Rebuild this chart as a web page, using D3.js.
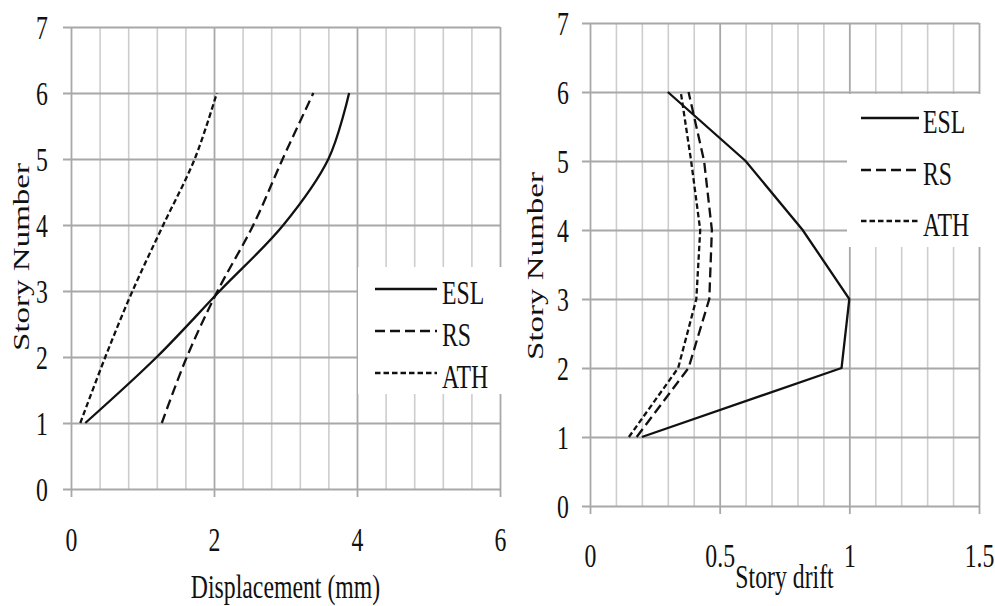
<!DOCTYPE html>
<html>
<head>
<meta charset="utf-8">
<script src="https://cdn.jsdelivr.net/npm/d3@7"></script>
<style>
  html, body { margin: 0; padding: 0; background: #fff; }
  svg { display: block; }
  text { font-family: "Liberation Serif", "Times New Roman", serif; fill: #111; }
</style>
</head>
<body>
<div id="chart"></div>
<script>
// story levels
const storyTicks = [0, 1, 2, 3, 4, 5, 6, 7];
const floors = [1, 2, 3, 4, 5, 6];
const seriesNames = ["ESL", "RS", "ATH"];

// displacement (mm) per floor
const dispESL = [0.2, 1.2, 2.08, 2.97, 3.6, 3.89];
const dispRS = [1.27, 1.62, 2.05, 2.55, 2.96, 3.39];
const dispATH = [0.13, 0.48, 0.86, 1.29, 1.73, 2.04];
const dispMajor = [0, 2, 4, 6];
const dispMinor = [0.4, 0.8, 1.2, 1.6, 2.4, 2.8, 3.2, 3.6, 4.4, 4.8, 5.2, 5.6];

// story drift per floor
const driftESL = [0.2, 0.97, 1.0, 0.82, 0.6, 0.3];
const driftRS = [0.18, 0.38, 0.46, 0.47, 0.44, 0.38];
const driftATH = [0.15, 0.34, 0.41, 0.425, 0.39, 0.35];
const driftMajor = [0, 0.5, 1, 1.5];
const driftMinor = [0.1, 0.2, 0.3, 0.4, 0.6, 0.7, 0.8, 0.9, 1.1, 1.2, 1.3, 1.4];

const FS = 33;      // font size
const SX = 0.72;    // horizontal squeeze of the picture's text

const svg = d3.select("#chart").append("svg")
    .attr("width", 995)
    .attr("height", 606);

const dashes = { ESL: null, RS: "10,5", ATH: "5.5,3" };

function drawPanel(opt) {
    const x = d3.scaleLinear().domain(opt.xDomain).range([opt.left, opt.right]);
    const y = d3.scaleLinear().domain([0, 7]).range([opt.bottom, opt.top]);
    const g = svg.append("g");

    // minor vertical grid
    g.append("g")
        .attr("transform", `translate(0,${opt.top})`)
        .call(d3.axisBottom(x).tickValues(opt.minor).tickSize(opt.bottom - opt.top).tickFormat(""))
        .call(a => a.select(".domain").remove())
        .call(a => a.selectAll(".tick line").attr("stroke", "#cdcdcd").attr("stroke-width", 1.6));

    // major vertical grid + x labels
    g.append("g")
        .attr("transform", `translate(0,${opt.top})`)
        .call(d3.axisBottom(x).tickValues(opt.major).tickSize(opt.bottom - opt.top + 8).tickFormat(d3.format("")))
        .call(a => a.select(".domain").remove())
        .call(a => a.selectAll(".tick line").attr("stroke", "#a8a8a8").attr("stroke-width", 1.8))
        .call(a => a.selectAll(".tick text")
            .attr("y", null).attr("dy", null)
            .attr("font-size", FS)
            .attr("text-anchor", "middle")
            .attr("transform", `translate(0,${opt.xLabelY - opt.top}) scale(${SX},1)`));

    // horizontal grid + y labels
    g.append("g")
        .attr("transform", `translate(${opt.left - 8},0)`)
        .call(d3.axisLeft(y).tickValues(storyTicks).tickSize(-(opt.right - opt.left + 8)).tickFormat(d3.format("d")))
        .call(a => a.select(".domain").remove())
        .call(a => a.selectAll(".tick line").attr("stroke", "#a8a8a8").attr("stroke-width", 1.8))
        .call(a => a.selectAll(".tick text")
            .attr("x", null).attr("dy", "0.34em")
            .attr("font-size", FS)
            .attr("transform", `translate(${-opt.yLabelPad},0) scale(${SX},1)`));

    // series lines
    const line = d3.line()
        .x(d => x(d[0]))
        .y(d => y(d[1]))
        .curve(opt.curve);

    opt.series.forEach((vals, i) => {
        const name = seriesNames[i];
        g.append("path")
            .datum(vals.map((v, j) => [v, floors[j]]))
            .attr("fill", "none")
            .attr("stroke", "#111")
            .attr("stroke-width", 2.3)
            .attr("stroke-dasharray", dashes[name])
            .attr("d", line);
    });

    // legend
    const lg = opt.legend;
    g.append("rect")
        .attr("x", lg.x).attr("y", lg.y)
        .attr("width", lg.w).attr("height", lg.h)
        .attr("fill", "#fff");
    seriesNames.forEach((name, i) => {
        const ly = lg.rows[i];
        g.append("line")
            .attr("x1", lg.lx1).attr("x2", lg.lx2)
            .attr("y1", ly).attr("y2", ly)
            .attr("stroke", "#111")
            .attr("stroke-width", 2.6)
            .attr("stroke-dasharray", dashes[name]);
        g.append("text")
            .attr("font-size", FS)
            .attr("dy", "0.34em")
            .attr("transform", `translate(${lg.tx},${ly + 4}) scale(${SX},1)`)
            .text(name);
    });

    // axis titles
    g.append("text")
        .attr("font-size", FS)
        .attr("text-anchor", "middle")
        .attr("transform", `translate(${(opt.left + opt.right) / 2},${opt.xTitleY}) scale(${SX},1)`)
        .text(opt.xTitle);

    g.append("text")
        .attr("font-size", FS)
        .attr("text-anchor", "middle")
        .attr("dy", "0.34em")
        .attr("transform", `translate(${opt.yTitleX},${opt.yTitleY}) scale(${SX},1) rotate(-90)`)
        .text("Story Number");
}

drawPanel({
    xDomain: [0, 6], left: 71, right: 500, top: 27, bottom: 489,
    major: dispMajor, minor: dispMinor,
    xLabelY: 551, yLabelPad: 15,
    xTitle: "Displacement (mm)", xTitleY: 598,
    yTitleX: 21, yTitleY: 257,
    curve: d3.curveCatmullRom.alpha(0.5),
    series: [dispESL, dispRS, dispATH],
    legend: { x: 358, y: 267, w: 146, h: 127, lx1: 375, lx2: 437, tx: 442, rows: [289, 331, 373] }
});

drawPanel({
    xDomain: [0, 1.5], left: 590, right: 979, top: 23, bottom: 506,
    major: driftMajor, minor: driftMinor,
    xLabelY: 567, yLabelPad: 13,
    xTitle: "Story drift", xTitleY: 588,
    yTitleX: 535, yTitleY: 266,
    curve: d3.curveLinear,
    series: [driftESL, driftRS, driftATH],
    legend: { x: 847, y: 94, w: 140, h: 153, lx1: 861, lx2: 919, tx: 923, rows: [118, 170, 221] }
});
</script>
</body>
</html>
